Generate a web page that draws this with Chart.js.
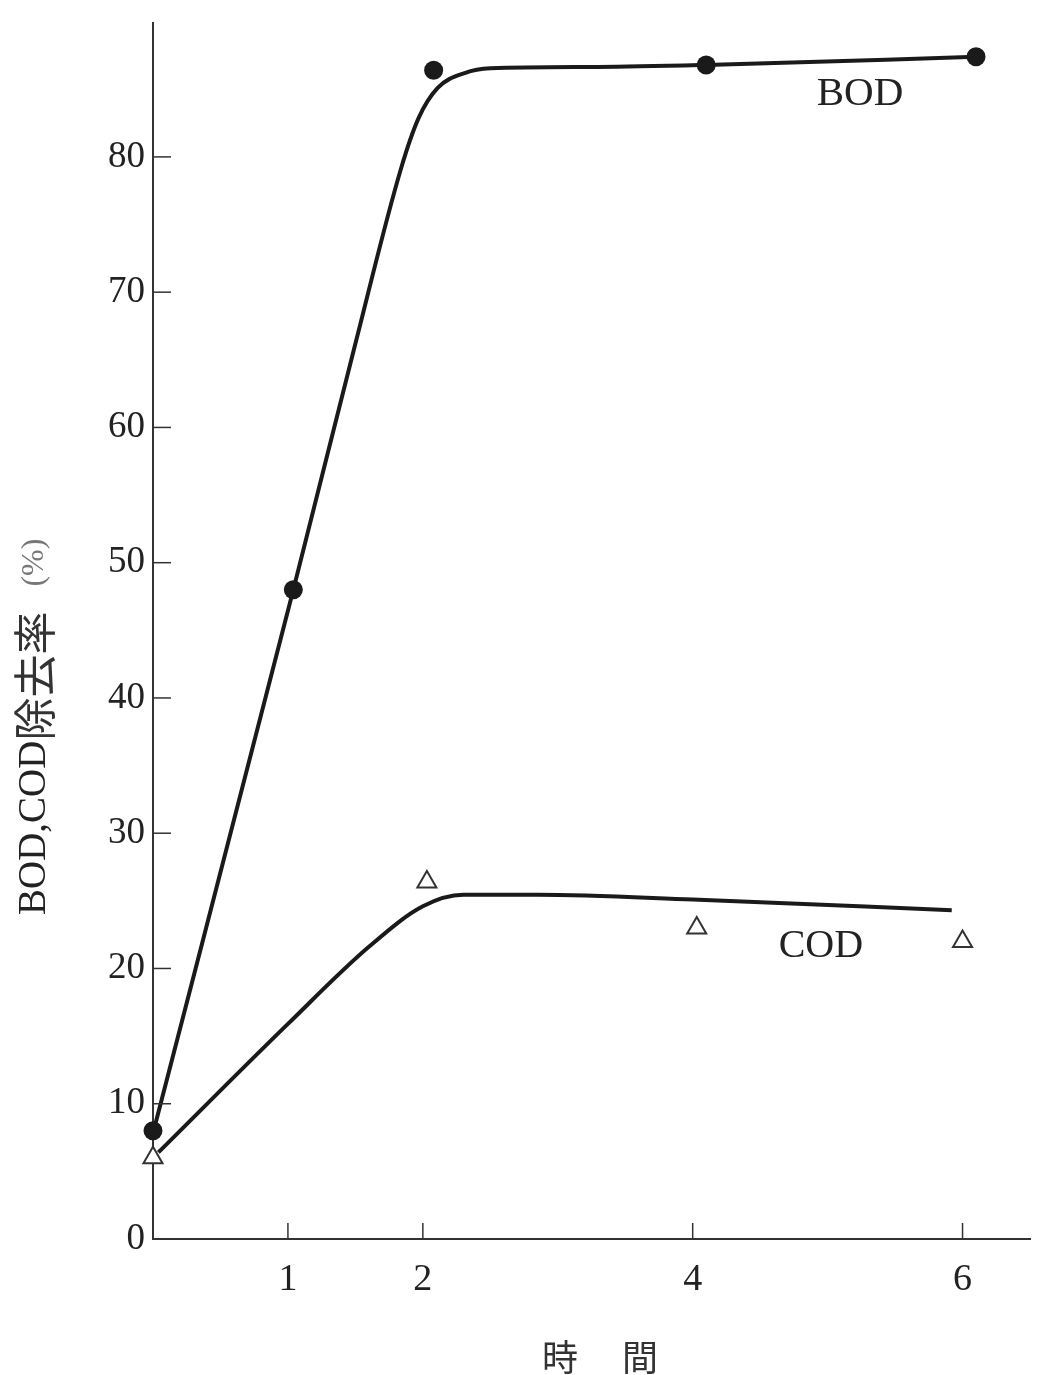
<!DOCTYPE html>
<html>
<head>
<meta charset="utf-8">
<script src="https://cdn.jsdelivr.net/npm/chart.js@4.4.1/dist/chart.umd.min.js"></script>
<style>
  html, body { margin: 0; padding: 0; background: #fff; }
  #wrap { width: 1043px; height: 1375px; }
</style>
</head>
<body>
<div id="wrap"><canvas id="chart" width="1043" height="1375"></canvas></div>
<script>
// axis ticks
var xTicks = [1, 2, 4, 6];
var yTicks = [0, 10, 20, 30, 40, 50, 60, 70, 80];

// measured points (hours, removal %)
var bodHours = [0, 1.04, 2.08, 4.1, 6.1];
var bodValues = [8.0, 48.0, 86.4, 86.8, 87.4];
var codHours = [0, 2.03, 4.03, 6.0];
var codValues = [6.0, 26.4, 23.0, 22.0];

// hand drawn curves through the points
var bodCurveHours = [0.02, 1.04, 1.49, 1.84, 1.97, 2.11, 2.31, 2.5, 3.29, 4.1, 6.1];
var bodCurveValues = [8.6, 48.0, 65.8, 79.2, 82.9, 85.1, 86.2, 86.55, 86.65, 86.8, 87.4];
var codCurveHours = [0.04, 1.0, 1.6, 2.0, 2.3, 2.85, 4.0, 5.92];
var codCurveValues = [6.4, 15.9, 21.6, 24.6, 25.45, 25.45, 25.1, 24.3];

function pts(xs, ys) {
  return xs.map(function (x, i) { return { x: x, y: ys[i] }; });
}

var INK = '#1a1a1a';
var SERIF = '"Liberation Serif", "Times New Roman", serif';
var CJK = '"Noto Sans CJK JP", sans-serif';

var extras = {
  id: 'extras',
  afterDraw: function (chart) {
    var ctx = chart.ctx;
    var xs = chart.scales.x, ys = chart.scales.y;
    ctx.save();

    // inward tick marks
    ctx.strokeStyle = '#333';
    ctx.lineWidth = 1.5;
    yTicks.forEach(function (v) {
      if (v === 0) return;
      var py = ys.getPixelForValue(v);
      ctx.beginPath();
      ctx.moveTo(xs.left, py);
      ctx.lineTo(xs.left + 18, py);
      ctx.stroke();
    });
    xTicks.forEach(function (v) {
      var px = xs.getPixelForValue(v);
      ctx.beginPath();
      ctx.moveTo(px, ys.bottom);
      ctx.lineTo(px, ys.bottom - 16);
      ctx.stroke();
    });

    // series labels
    ctx.fillStyle = '#222';
    ctx.textAlign = 'center';
    ctx.textBaseline = 'middle';
    ctx.font = '41px ' + SERIF;
    ctx.fillText('BOD', xs.getPixelForValue(5.24), ys.getPixelForValue(84.6));
    ctx.font = '40px ' + SERIF;
    ctx.fillText('COD', xs.getPixelForValue(4.95), ys.getPixelForValue(21.6));

    // x title
    ctx.font = '36px ' + CJK;
    ctx.letterSpacing = '4px';
    ctx.fillStyle = '#333';
    ctx.fillText('時　間', 602, 1357);
    ctx.letterSpacing = '0px';

    // y title, drawn bottom to top
    ctx.translate(35, 915);
    ctx.rotate(-Math.PI / 2);
    ctx.textAlign = 'left';
    var parts = [
      { t: 'BOD,COD', f: '39px ' + SERIF, c: '#222', gap: 0 },
      { t: '除去率', f: '43px ' + CJK, c: '#333', gap: 0 },
      { t: '(%)', f: '32px ' + SERIF, c: '#777', gap: 25 }
    ];
    var pos = 0;
    parts.forEach(function (p) {
      ctx.font = p.f;
      ctx.fillStyle = p.c;
      pos += p.gap;
      ctx.fillText(p.t, pos, 0);
      pos += ctx.measureText(p.t).width;
    });
    ctx.restore();
  }
};

var ctx = document.getElementById('chart');
var chart = new Chart(ctx, {
  type: 'scatter',
  data: {
    datasets: [
      {
        label: 'BOD',
        data: pts(bodHours, bodValues),
        pointStyle: 'circle',
        pointRadius: 9.5,
        pointBackgroundColor: INK,
        pointBorderWidth: 0,
        showLine: false,
        clip: false,
        order: 1
      },
      {
        label: 'COD',
        data: pts(codHours, codValues),
        pointStyle: 'triangle',
        pointRadius: 11,
        pointBackgroundColor: '#fff',
        pointBorderColor: '#333',
        pointBorderWidth: 2,
        showLine: false,
        clip: false,
        order: 0
      },
      {
        label: 'BOD curve',
        data: pts(bodCurveHours, bodCurveValues),
        showLine: true,
        borderColor: INK,
        borderWidth: 4,
        pointRadius: 0,
        cubicInterpolationMode: 'monotone',
        clip: false,
        order: 3
      },
      {
        label: 'COD curve',
        data: pts(codCurveHours, codCurveValues),
        showLine: true,
        borderColor: INK,
        borderWidth: 4,
        pointRadius: 0,
        cubicInterpolationMode: 'monotone',
        clip: false,
        order: 2
      }
    ]
  },
  options: {
    responsive: false,
    animation: false,
    layout: { padding: { left: 0, right: 6, top: 23, bottom: 0 } },
    plugins: {
      legend: { display: false },
      tooltip: { enabled: false }
    },
    scales: {
      x: {
        type: 'linear',
        min: 0,
        max: 6.5,
        afterBuildTicks: function (s) {
          s.ticks = xTicks.map(function (v) { return { value: v }; });
        },
        afterFit: function (s) {
          s.height = 136;
          s.paddingLeft = 0;
          s.paddingRight = 0;
        },
        grid: { display: false },
        border: { display: true, color: '#333', width: 2 },
        ticks: {
          autoSkip: false,
          maxRotation: 0,
          padding: 10,
          color: '#222',
          font: { family: SERIF, size: 38 }
        }
      },
      y: {
        type: 'linear',
        min: 0,
        max: 89.9,
        afterBuildTicks: function (s) {
          s.ticks = yTicks.map(function (v) { return { value: v }; });
        },
        afterFit: function (s) {
          s.width = 153;
          s.paddingTop = 0;
          s.paddingBottom = 0;
        },
        grid: { display: false },
        border: { display: true, color: '#333', width: 2 },
        ticks: {
          padding: 0,
          color: '#222',
          font: { family: SERIF, size: 37 }
        }
      }
    }
  },
  plugins: [extras]
});
</script>
</body>
</html>
